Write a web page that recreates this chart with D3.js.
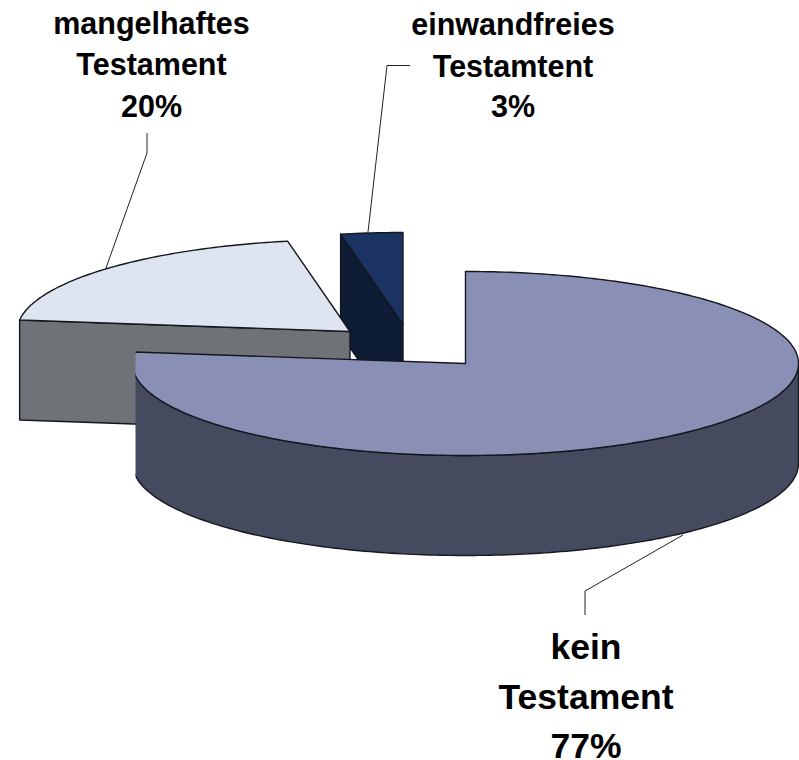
<!DOCTYPE html>
<html>
<head>
<meta charset="utf-8">
<script src="https://cdn.jsdelivr.net/npm/d3@7"></script>
<style>
  html, body { margin: 0; padding: 0; background: #fff; overflow: hidden; }
  svg { display: block; }
  text { font-family: "Liberation Sans", Arial, sans-serif; font-weight: bold; fill: #000; text-anchor: middle; }
</style>
</head>
<body>
<div id="chart"></div>
<script>
// data
const categories = ["kein Testament", "mangelhaftes Testament", "einwandfreies Testamtent"]
const values = [77, 20, 3]
const labelLines = [["kein", "Testament", "77%"], ["mangelhaftes", "Testament", "20%"], ["einwandfreies", "Testamtent", "3%"]]

// look of each slice
const topColors = ["#8a8fb6", "#dfe5f0", "#1b3362"]
const sideColors = ["#454a5f", "#6f7276", "#0e1c35"]

// layout: every slice is pulled out of the pie by its own amount
const width = 799, height = 760
const rx = 333, ry = 92, depth = 100
const centers = [[465.5, 363.5], [350, 331.5], [403, 324.5]]
const labelX = [586, 151.5, 513]
const labelY = [[659, 709, 758], [33.5, 75, 117], [35, 77, 117]]
const labelSize = [35.5, 30.5, 30.5]
const leaders = [
    [[683, 535], [585, 591], [585, 615]],
    [[106, 268], [147, 153], [147, 133]],
    [[368, 232], [387, 65.5], [410, 65.5]]
]

const svg = d3.select("#chart")
    .append("svg")
    .attr("width", width)
    .attr("height", height)

// big slice has a flat left side in the picture
svg.append("clipPath").attr("id", "big-clip")
    .append("rect").attr("x", 135.5).attr("y", 0).attr("width", width).attr("height", height)

const pie = d3.pie().sort(null).startAngle(0).endAngle(2 * Math.PI)
const slices = pie(values)
const line = d3.line()

// point on the rim of a slice, angle is clockwise from 12 o'clock
function rim(c, a, drop = 0) {
    return [c[0] + rx * Math.sin(a), c[1] - ry * Math.cos(a) + drop]
}

function arcPoints(c, a0, a1, drop = 0) {
    const n = Math.max(2, Math.ceil(Math.abs(a1 - a0) * 60))
    return d3.range(n + 1).map(i => rim(c, a0 + (a1 - a0) * i / n, drop))
}

function drawPath(g, pts, fill) {
    g.append("path")
        .attr("d", line(pts) + "Z")
        .attr("fill", fill)
        .attr("stroke", "#15171e")
        .attr("stroke-width", 1.4)
        .attr("stroke-linejoin", "round")
}

// back to front: smallest slice first
d3.range(slices.length).reverse().forEach(i => {
    const s = slices[i], c = centers[i]
    const g = svg.append("g")
    if (i === 0) g.attr("clip-path", "url(#big-clip)")

    // cut face towards the viewer, from the outer corner to the centre
    if (i > 0) {
        const corner = rim(c, s.startAngle)
        drawPath(g, [corner, c, [c[0], c[1] + depth], [corner[0], corner[1] + depth]], sideColors[i])
    }
    // curved outside wall, only the front half shows
    const from = Math.max(s.startAngle, Math.PI / 2)
    const to = Math.min(s.endAngle, 1.5 * Math.PI)
    if (to > from) {
        drawPath(g, arcPoints(c, from, to).concat(arcPoints(c, to, from, depth)), sideColors[i])
    }
    // top of the slice
    drawPath(g, [c].concat(arcPoints(c, s.startAngle, s.endAngle)), topColors[i])
})

// leader lines
svg.selectAll("path.leader")
    .data(leaders)
    .join("path")
    .attr("class", "leader")
    .attr("d", d => line(d))
    .attr("fill", "none")
    .attr("stroke", "#222")
    .attr("stroke-width", 1)

// labels
categories.forEach((name, i) => {
    labelLines[i].forEach((t, j) => {
        svg.append("text")
            .attr("x", labelX[i])
            .attr("y", labelY[i][j])
            .style("font-size", labelSize[i] + "px")
            .text(t)
    })
})
</script>
</body>
</html>
